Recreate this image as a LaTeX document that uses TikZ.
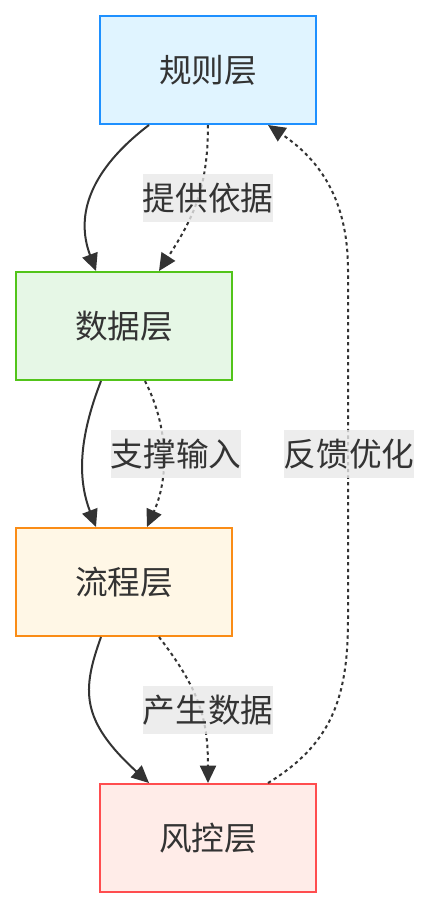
\documentclass[tikz,border=0pt]{standalone}
\usepackage{fontspec}
\newfontfamily\cjk{Noto Sans CJK SC}
\usetikzlibrary{arrows.meta,calc}
\definecolor{ink}{HTML}{333333}
\definecolor{ruleB}{HTML}{1E90FF}\definecolor{ruleF}{HTML}{E0F4FF}
\definecolor{dataB}{HTML}{52C41A}\definecolor{dataF}{HTML}{E6F7E6}
\definecolor{procB}{HTML}{FA8C16}\definecolor{procF}{HTML}{FFF7E6}
\definecolor{riskB}{HTML}{FF4D4F}\definecolor{riskF}{HTML}{FFECE8}
\definecolor{lblF}{HTML}{E8E8E8}
\tikzset{
  layer/.style={draw, line width=1.5pt, minimum width=162pt, minimum height=81pt, inner sep=0pt,
    font=\cjk\fontsize{24.5}{28}\selectfont, text=ink},
  lbl/.style={fill=lblF, fill opacity=0.8, text opacity=1, minimum width=96pt, minimum height=36pt,
    inner sep=0pt, font=\cjk\fontsize{24.5}{28}\selectfont, text=ink},
  link/.style={draw=ink, line width=1.5pt, -{Triangle[length=13pt,width=12pt]}},
  dotlink/.style={link, dash pattern=on 2.5pt off 2.5pt},
}
\begin{document}
\begin{tikzpicture}[x=0.75pt,y=-0.75pt]
\useasboundingbox (0,0) rectangle (429,908);
\node[layer, draw=ruleB, fill=ruleF] (rule) at (208,70) {规则层};
\node[layer, draw=dataB, fill=dataF] (data) at (124,326) {数据层};
\node[layer, draw=procB, fill=procF] (proc) at (124,582) {流程层};
\node[layer, draw=riskB, fill=riskF] (risk) at (208,838) {风控层};

% solid edges
\draw[link] ($(rule.south west)+(50,0)$) .. controls (90,170) and (75,215) .. ($(data.north west)+(81,0)$);
\draw[link] ($(data.south west)+(86,0)$) .. controls (78,440) and (78,480) .. ($(proc.north west)+(81,0)$);
\draw[link] ($(proc.south west)+(86,0)$) .. controls (82,690) and (80,720) .. ($(risk.north west)+(50,0)$);

% dotted edges
\draw[dotlink] (rule.south) .. controls (208,190) and (192,220) .. ($(data.north west)+(144,0)$);
\draw[dotlink] ($(data.south west)+(130,0)$) .. controls (170,430) and (168,480) .. ($(proc.north west)+(132,0)$);
\draw[dotlink] ($(proc.south west)+(144,0)$) .. controls (200,690) and (208,720) .. (risk.north);
\coordinate (fbA) at (348,620);
\coordinate (fbB) at (348,270);
\draw[dotlink] ($(risk.north)+(60,0)$) .. controls (330,745) and (348,700) .. (fbA) -- (fbB)
  .. controls (348,200) and (320,160) .. ($(rule.south)+(60,0)$);

% labels
\node[lbl] (l1) at (208,198) {提供依据};
\node[lbl] (l2) at (176,454) {支撑输入};
\node[lbl] (l3) at (208,710) {产生数据};
\node[lbl] (l4) at (349,454) {反馈优化};
\end{tikzpicture}
\end{document}
